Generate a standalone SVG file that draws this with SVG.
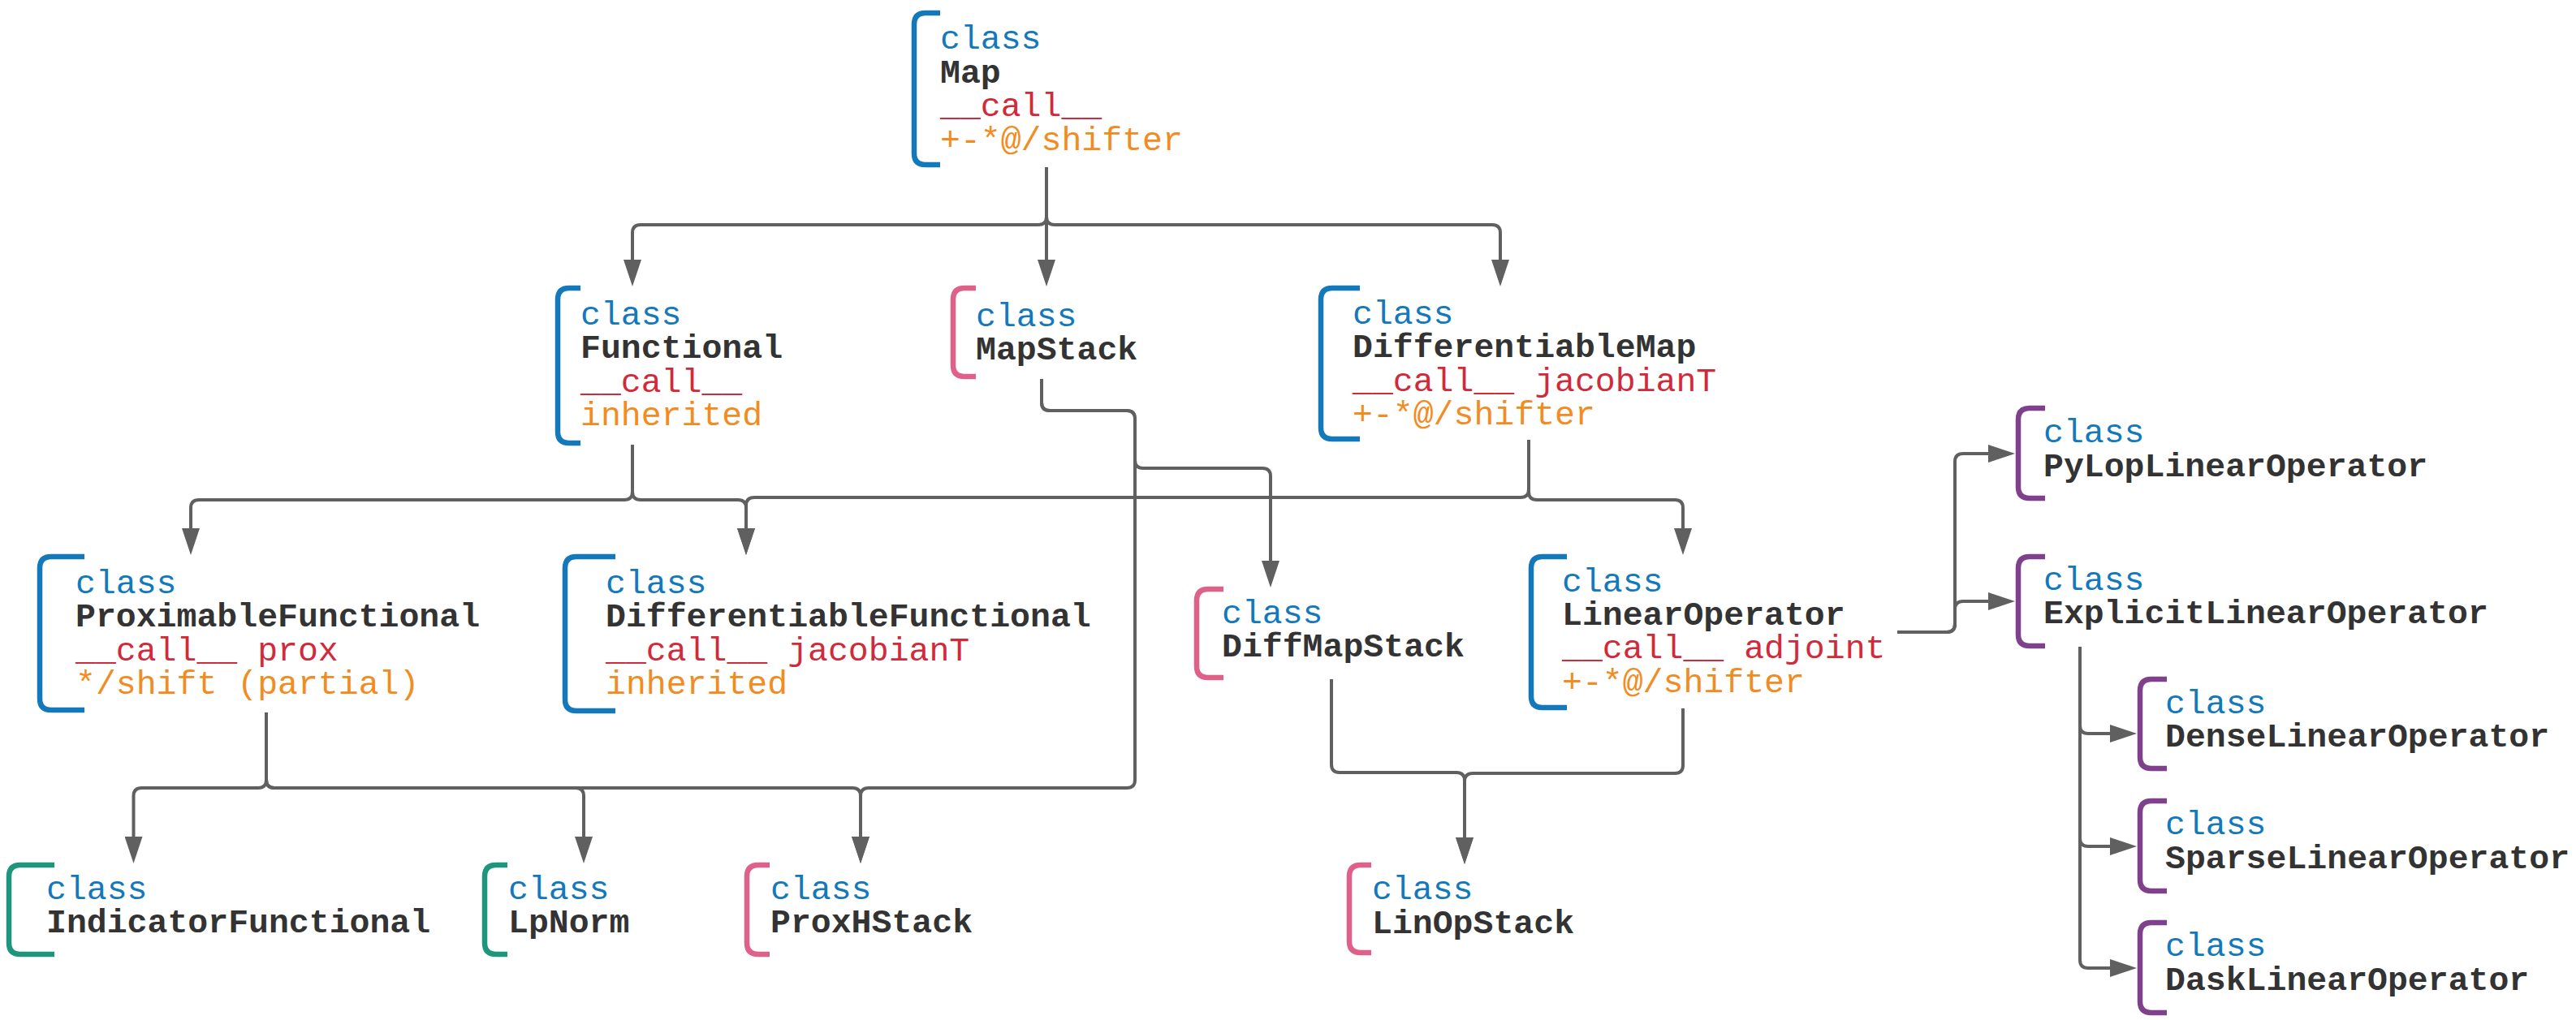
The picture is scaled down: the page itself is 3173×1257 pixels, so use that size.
<svg xmlns="http://www.w3.org/2000/svg" width="3173" height="1257" viewBox="0 0 3173 1257">
<defs>
<style>
text{font-family:"Liberation Mono","DejaVu Sans Mono",monospace;font-size:41.5px}
.c{fill:#1479bb}
.n{fill:#333333;font-weight:bold}
.m{fill:#d12a3a}
.o{fill:#f28c22}
.br{fill:none;stroke-width:6.5}
.bb{stroke:#1479bb}
.bp{stroke:#df6189}
.bt{stroke:#1e967c}
.bu{stroke:#7f418b}
.e{fill:none;stroke:#606060;stroke-width:4;marker-end:url(#ah)}
</style>
<marker id="ah" markerUnits="userSpaceOnUse" markerWidth="34" markerHeight="22" refX="3" refY="11" orient="auto">
<path d="M0,0 L33,11 L0,22 z" fill="#606060"/>
</marker>
</defs>
<g id="connectors">
<path class="e" d="M1289 206 V267 Q1289 277 1279 277 H789 Q779 277 779 287 V323"/>
<path class="e" d="M1289 206 V323"/>
<path class="e" d="M1289 206 V267 Q1289 277 1299 277 H1838 Q1848 277 1848 287 V323"/>
<path class="e" d="M779 548 V606 Q779 616 769 616 H245 Q235 616 235 626 V654"/>
<path class="e" d="M779 548 V606 Q779 616 789 616 H909 Q919 616 919 626 V654"/>
<path class="e" d="M1883 542 V603 Q1883 613 1873 613 H929 Q919 613 919 623 V654"/>
<path class="e" d="M1883 542 V606 Q1883 616 1893 616 H2063 Q2073 616 2073 626 V654"/>
<path class="e" d="M1283 467 V496 Q1283 506 1293 506 H1388 Q1398 506 1398 516 V567 Q1398 577 1408 577 H1555 Q1565 577 1565 587 V694"/>
<path class="e" d="M1283 467 V496 Q1283 506 1293 506 H1388 Q1398 506 1398 516 V961 Q1398 971 1388 971 H1070 Q1060 971 1060 981 V1034"/>
<path class="e" d="M328 878 V961 Q328 971 318 971 H174.5 Q164.5 971 164.5 981 V1034"/>
<path class="e" d="M328 878 V961 Q328 971 338 971 H709 Q719 971 719 981 V1034"/>
<path class="e" d="M328 878 V961 Q328 971 338 971 H1050 Q1060 971 1060 981 V1034"/>
<path class="e" d="M1640 837 V942 Q1640 952 1650 952 H1794 Q1804 952 1804 962 V1035"/>
<path class="e" d="M2073 873 V943 Q2073 953 2063 953 H1814 Q1804 953 1804 963 V1035"/>
<path class="e" d="M2337 779 H2398 Q2408 779 2408 769 V569 Q2408 559 2418 559 H2452"/>
<path class="e" d="M2337 779 H2398 Q2408 779 2408 769 V751 Q2408 741 2418 741 H2452"/>
<path class="e" d="M2562 797 V894 Q2562 904 2572 904 H2602"/>
<path class="e" d="M2562 797 V1033 Q2562 1043 2572 1043 H2602"/>
<path class="e" d="M2562 797 V1183 Q2562 1193 2572 1193 H2602"/>
</g>
<g id="Map">
<path class="br bb" d="M1158 16 H1140 Q1126 16 1126 30 V189 Q1126 203 1140 203 H1158"/>
<text x="1158" y="60" class="c">class</text>
<text x="1158" y="102" class="n">Map</text>
<text x="1158" y="143" class="m">__call__</text>
<text x="1158" y="184.5" class="o">+-*@/shifter</text>
</g>
<g id="Functional">
<path class="br bb" d="M715 355 H701 Q687 355 687 369 V532 Q687 546 701 546 H715"/>
<text x="715" y="400" class="c">class</text>
<text x="715" y="441" class="n">Functional</text>
<text x="715" y="482.5" class="m">__call__</text>
<text x="715" y="524" class="o">inherited</text>
</g>
<g id="MapStack">
<path class="br bp" d="M1202 355 H1188 Q1174 355 1174 369 V450 Q1174 464 1188 464 H1202"/>
<text x="1202" y="402" class="c">class</text>
<text x="1202" y="443" class="n">MapStack</text>
</g>
<g id="DifferentiableMap">
<path class="br bb" d="M1675 355 H1641 Q1627 355 1627 369 V527 Q1627 541 1641 541 H1675"/>
<text x="1666" y="399" class="c">class</text>
<text x="1666" y="440" class="n">DifferentiableMap</text>
<text x="1666" y="481.5" class="m">__call__ jacobianT</text>
<text x="1666" y="523" class="o">+-*@/shifter</text>
</g>
<g id="ProximableFunctional">
<path class="br bb" d="M104 686 H63 Q49 686 49 700 V861 Q49 875 63 875 H104"/>
<text x="93" y="731" class="c">class</text>
<text x="93" y="772" class="n">ProximableFunctional</text>
<text x="93" y="813.5" class="m">__call__ prox</text>
<text x="93" y="855" class="o">*/shift (partial)</text>
</g>
<g id="DifferentiableFunctional">
<path class="br bb" d="M758 686 H710 Q696 686 696 700 V862 Q696 876 710 876 H758"/>
<text x="746" y="731" class="c">class</text>
<text x="746" y="772" class="n">DifferentiableFunctional</text>
<text x="746" y="813.5" class="m">__call__ jacobianT</text>
<text x="746" y="855" class="o">inherited</text>
</g>
<g id="DiffMapStack">
<path class="br bp" d="M1507 726 H1488 Q1474 726 1474 740 V821 Q1474 835 1488 835 H1507"/>
<text x="1505" y="768" class="c">class</text>
<text x="1505" y="809" class="n">DiffMapStack</text>
</g>
<g id="LinearOperator">
<path class="br bb" d="M1930 686 H1900 Q1886 686 1886 700 V858 Q1886 872 1900 872 H1930"/>
<text x="1924" y="729" class="c">class</text>
<text x="1924" y="770" class="n">LinearOperator</text>
<text x="1924" y="811" class="m">__call__ adjoint</text>
<text x="1924" y="853" class="o">+-*@/shifter</text>
</g>
<g id="PyLopLinearOperator">
<path class="br bu" d="M2519 503 H2500 Q2486 503 2486 517 V600 Q2486 614 2500 614 H2519"/>
<text x="2517" y="545" class="c">class</text>
<text x="2517" y="587" class="n">PyLopLinearOperator</text>
</g>
<g id="ExplicitLinearOperator">
<path class="br bu" d="M2519 686 H2500 Q2486 686 2486 700 V782 Q2486 796 2500 796 H2519"/>
<text x="2517" y="727" class="c">class</text>
<text x="2517" y="768" class="n">ExplicitLinearOperator</text>
</g>
<g id="DenseLinearOperator">
<path class="br bu" d="M2669 837 H2650 Q2636 837 2636 851 V933 Q2636 947 2650 947 H2669"/>
<text x="2667" y="879" class="c">class</text>
<text x="2667" y="920" class="n">DenseLinearOperator</text>
</g>
<g id="SparseLinearOperator">
<path class="br bu" d="M2669 987 H2650 Q2636 987 2636 1001 V1084 Q2636 1098 2650 1098 H2669"/>
<text x="2667" y="1028" class="c">class</text>
<text x="2667" y="1070" class="n">SparseLinearOperator</text>
</g>
<g id="DaskLinearOperator">
<path class="br bu" d="M2669 1137 H2650 Q2636 1137 2636 1151 V1234 Q2636 1248 2650 1248 H2669"/>
<text x="2667" y="1178" class="c">class</text>
<text x="2667" y="1220" class="n">DaskLinearOperator</text>
</g>
<g id="IndicatorFunctional">
<path class="br bt" d="M67 1066 H25 Q11 1066 11 1080 V1162 Q11 1176 25 1176 H67"/>
<text x="57" y="1108" class="c">class</text>
<text x="57" y="1149" class="n">IndicatorFunctional</text>
</g>
<g id="LpNorm">
<path class="br bt" d="M625 1066 H611 Q597 1066 597 1080 V1162 Q597 1176 611 1176 H625"/>
<text x="626" y="1108" class="c">class</text>
<text x="626" y="1149" class="n">LpNorm</text>
</g>
<g id="ProxHStack">
<path class="br bp" d="M948 1066 H934 Q920 1066 920 1080 V1162 Q920 1176 934 1176 H948"/>
<text x="949" y="1108" class="c">class</text>
<text x="949" y="1149" class="n">ProxHStack</text>
</g>
<g id="LinOpStack">
<path class="br bp" d="M1689 1066 H1676 Q1662 1066 1662 1080 V1160 Q1662 1174 1676 1174 H1689"/>
<text x="1690" y="1108" class="c">class</text>
<text x="1690" y="1150" class="n">LinOpStack</text>
</g>
</svg>
